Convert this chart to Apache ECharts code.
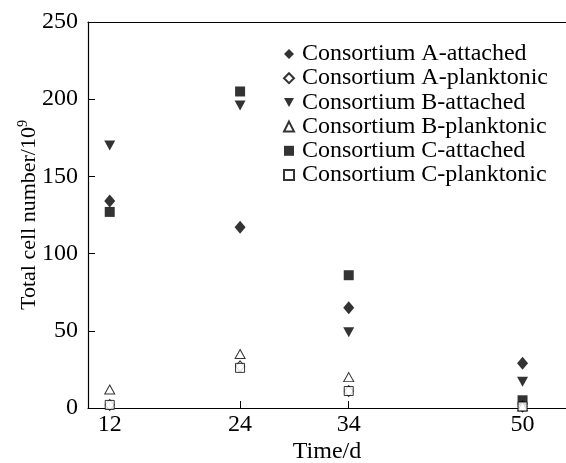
<!DOCTYPE html>
<html>
<head>
<meta charset="utf-8">
<script src="https://cdn.jsdelivr.net/npm/echarts@6/dist/echarts.min.js"></script>
<style>html,body{margin:0;padding:0;background:#fff}#c{width:566px;height:463px}</style>
</head>
<body>
<div id="c"></div>
<script>
var days = [12, 24, 34, 50];
var seriesNames = ['Consortium A-attached','Consortium A-planktonic','Consortium B-attached','Consortium B-planktonic','Consortium C-attached','Consortium C-planktonic'];
var aAttached = [134, 117, 65, 29];
var aPlanktonic = [2, 27, 11, 1];
var bAttached = [170, 196, 49, 17];
var bPlanktonic = [12, 35, 20, 1];
var cAttached = [127, 205, 86, 5];
var cPlanktonic = [2, 26, 11, 1];
var yTicks = [0, 50, 100, 150, 200, 250];

var FONT = 'Liberation Serif';
var DOWN_TRI = 'path://M0,0 L10,0 L5,9 Z';
function pairs(vals){ return days.map(function(d,i){ return [d, vals[i]]; }); }
function mk(name, vals, symbol, filled, size){
  return {
    name: name, type: 'scatter', data: pairs(vals), symbol: symbol, symbolSize: size,
    itemStyle: filled ? {color:'#000'} : {color:'#fff', borderColor:'#000', borderWidth:1},
    z: filled ? 3 : 4
  };
}
var series = [
  mk(seriesNames[0], aAttached, 'diamond', true, [11,13]),
  mk(seriesNames[1], aPlanktonic, 'diamond', false, [9,11]),
  mk(seriesNames[2], bAttached, DOWN_TRI, true, [11,10]),
  mk(seriesNames[3], bPlanktonic, 'triangle', false, [10,9]),
  mk(seriesNames[4], cAttached, 'rect', true, [10,10]),
  mk(seriesNames[5], cPlanktonic, 'rect', false, [9,9])
];
var chart = echarts.init(document.getElementById('c'));
chart.setOption({
  animation: false,
  backgroundColor: '#fff',
  textStyle: {fontFamily: FONT},
  grid: {left: 88, right: 0, top: 22, bottom: 55, containLabel: false, outerBoundsMode: 'none'},
  legend: {
    orient: 'vertical', left: 278, top: 37, itemGap: 0.2,
    itemWidth: 10, itemHeight: 10,
    textStyle: {fontFamily: FONT, fontSize: 24, color: '#000', padding: [0,0,0,3]},
    data: seriesNames.map(function(n, i){ return {name: n, icon: series[i].symbol}; })
  },
  xAxis: [{
    type: 'value', min: 10, max: 54,
    axisLine: {lineStyle: {color: '#000', width: 1.2}},
    axisTick: {inside: true, length: 7, lineStyle: {color: '#000'}, customValues: days},
    axisLabel: {color: '#000', fontSize: 24, fontFamily: FONT, margin: 5, customValues: days},
    splitLine: {show: false},
    name: 'Time/d', nameLocation: 'middle', nameGap: 32, nameMoveOverlap: false,
    nameTextStyle: {color: '#000', fontSize: 24, fontFamily: FONT}
  }, {
    type: 'value', min: 10, max: 54, position: 'top',
    axisLine: {show: true, lineStyle: {color: '#000', width: 1.2}},
    axisTick: {show: false}, axisLabel: {show: false}, splitLine: {show: false}
  }],
  yAxis: {
    type: 'value', min: 0, max: 250, interval: 50,
    axisLine: {show: true, lineStyle: {color: '#000', width: 1.2}},
    axisTick: {inside: true, length: 7, lineStyle: {color: '#000'}},
    axisLabel: {color: '#000', fontSize: 24, fontFamily: FONT, margin: 10,
      formatter: function(v){ return yTicks.indexOf(v) >= 0 ? String(v) : ''; }},
    splitLine: {show: false},
    name: 'Total cell number/10{sup|9}', nameLocation: 'middle', nameGap: 46, nameMoveOverlap: false,
    nameTextStyle: {color: '#000', fontSize: 22, fontFamily: FONT, lineHeight: 26,
      rich: {sup: {fontSize: 14, fontFamily: FONT, color: '#000', verticalAlign: 'top', lineHeight: 26}}}
  },
  series: series
});
</script>
</body>
</html>
